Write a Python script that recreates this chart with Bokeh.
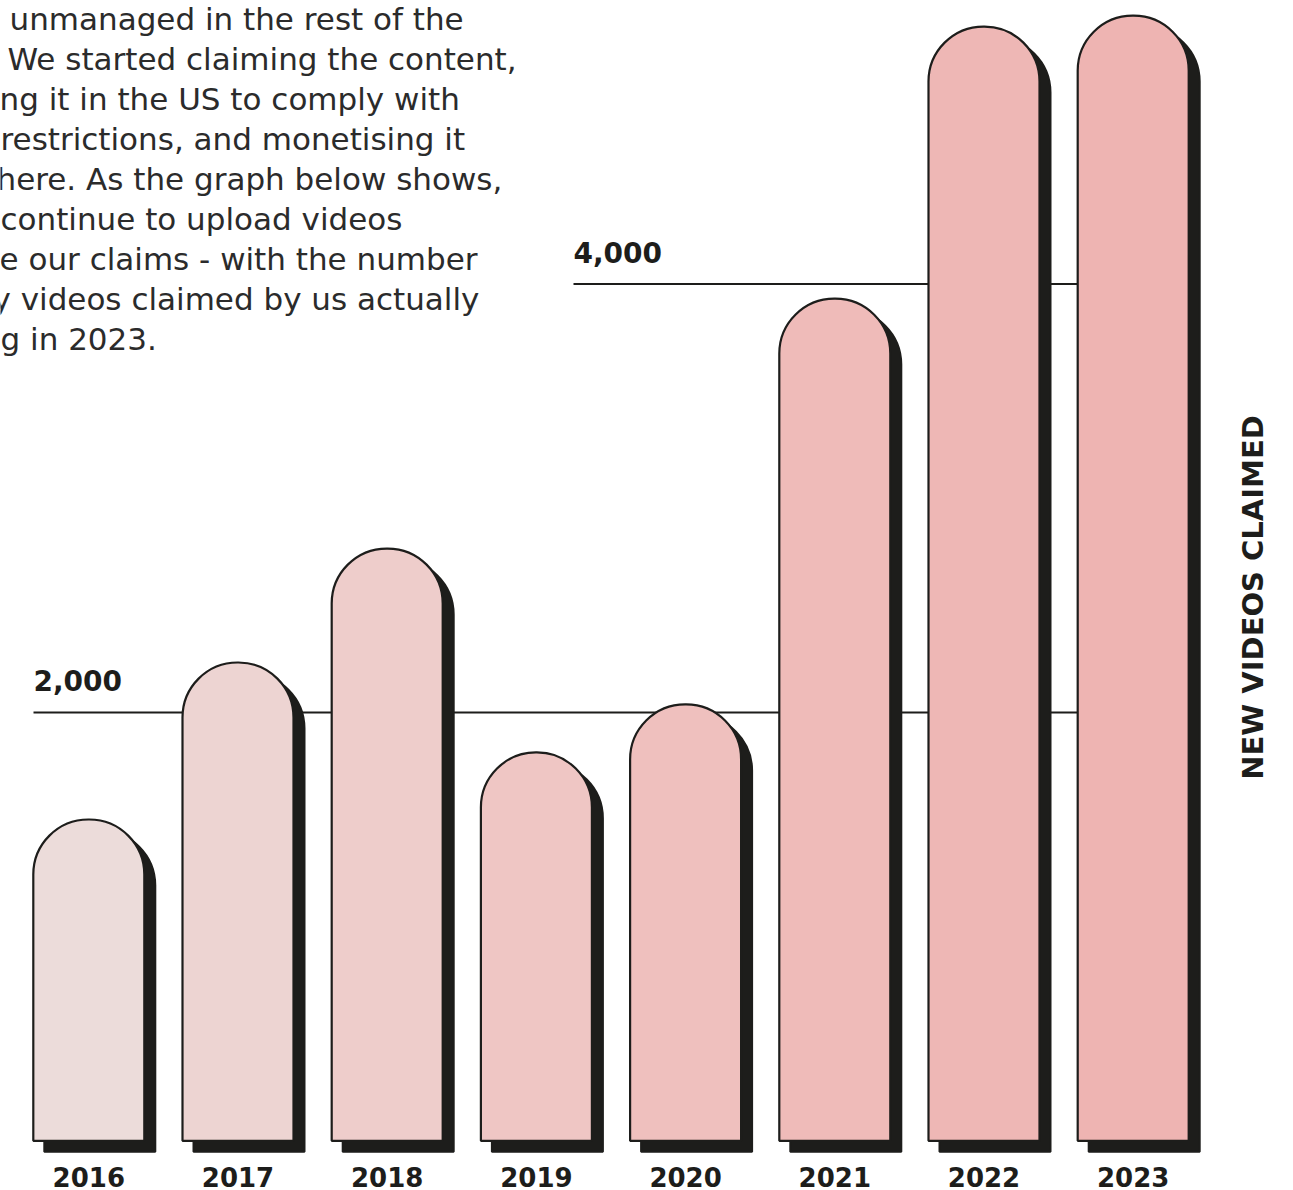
from bokeh.plotting import figure
from bokeh.models import ColumnDataSource, Range1d
from bokeh.core.properties import value
from bokeh.embed import file_html
from bokeh.resources import INLINE
import math

# ---- data ----
years = ["2016", "2017", "2018", "2019", "2020", "2021", "2022", "2023"]
claims = [1500, 2233, 2765, 1813, 2037, 3932, 5202, 5253]
bar_colors = ["#ecdcda", "#edd4d2", "#eecdcb", "#efc6c4", "#efc0be", "#efbbb9", "#eeb7b5", "#eeb4b2"]
grid_values = [2000, 4000]
grid_labels = ["2,000", "4,000"]
axis_title = "NEW VIDEOS CLAIMED"
paragraph = [
    "unmanaged in the rest of the",
    "We started claiming the content,",
    "ng it in the US to comply with",
    "restrictions, and monetising it",
    "here. As the graph below shows,",
    "continue to upload videos",
    "e our claims - with the number",
    "y videos claimed by us actually",
    "g in 2023.",
]
paragraph_left_px = [9, 7, -1, 0, -4, 0, -1, -8, 0]

# ---- layout (pixel geometry of the canvas) ----
W_PX, H_PX = 1293, 1190
X0_PX, X_STEP_PX = 88.3, 149.2      # pixel of first bar centre, spacing
Y0_PX, Y_SCALE = 1140.3, 0.2142     # pixel of zero, px per unit
BAR_PX = 111
SHADOW_PX = 11

def px2x(px):
    return (px - X0_PX) / X_STEP_PX

def px2y(py):
    return (Y0_PX - py) / Y_SCALE

xr = Range1d(px2x(0), px2x(W_PX))
yr = Range1d(px2y(H_PX), px2y(0))

p = figure(width=W_PX, height=H_PX, x_range=xr, y_range=yr,
           output_backend="svg", toolbar_location=None,
           x_axis_location=None, y_axis_location=None,
           min_border=0, outline_line_color=None)
p.grid.visible = False
p.background_fill_color = "white"
p.border_fill_color = "white"

INK = "#1d1d1b"
idx = list(range(len(years)))
bw = BAR_PX / X_STEP_PX
dx = SHADOW_PX / X_STEP_PX
dy = SHADOW_PX / Y_SCALE

# gridlines behind the bars
gx0 = [px2x(33), px2x(573)]
gx1 = [px2x(1120), px2x(1120)]
p.segment(x0=gx0, y0=grid_values, x1=gx1, y1=grid_values, line_color=INK, line_width=2)
p.text(x=gx0, y=grid_values, text=grid_labels, text_font=value("DejaVu Sans"),
       text_font_style="bold", text_font_size="28px", text_color=INK,
       text_align="left", text_baseline="alphabetic", y_offset=-32)

src = ColumnDataSource(dict(
    x=idx,
    xs=[i + dx for i in idx],
    top=claims,
    stop=[c - dy for c in claims],
    year=years,
    color=bar_colors,
))

# shadows
p.vbar(x="xs", width=bw, bottom=-dy, top="stop", source=src,
       fill_color=INK, line_color=INK, line_width=2,
       border_radius=(55, 55, 0, 0))
# bars
p.vbar(x="x", width=bw, bottom=0, top="top", source=src,
       fill_color="color", line_color=INK, line_width=2.2,
       border_radius=(55, 55, 0, 0))

# year labels
p.text(x="x", y=0, text="year", source=src, text_font=value("DejaVu Sans"),
       text_font_style="bold", text_font_size="26px", text_color=INK,
       text_align="center", text_baseline="alphabetic", y_offset=36)

# vertical axis title
p.text(x=[px2x(1252)], y=[px2y(597)], text=[axis_title], angle=math.pi / 2,
       text_font=value("DejaVu Sans"), text_font_style="bold", text_font_size="29px",
       text_color=INK, text_align="center", text_baseline="middle")

# paragraph (partially cut at the left edge)
p.text(x=[px2x(v) for v in paragraph_left_px],
       y=[px2y(18 + 40 * k) for k in range(len(paragraph))],
       text=paragraph, text_font=value("DejaVu Sans"), text_font_size="31px",
       text_color="#2b2b2b", text_align="left", text_baseline="alphabetic")

open("out.html", "w").write(file_html(p, INLINE))
